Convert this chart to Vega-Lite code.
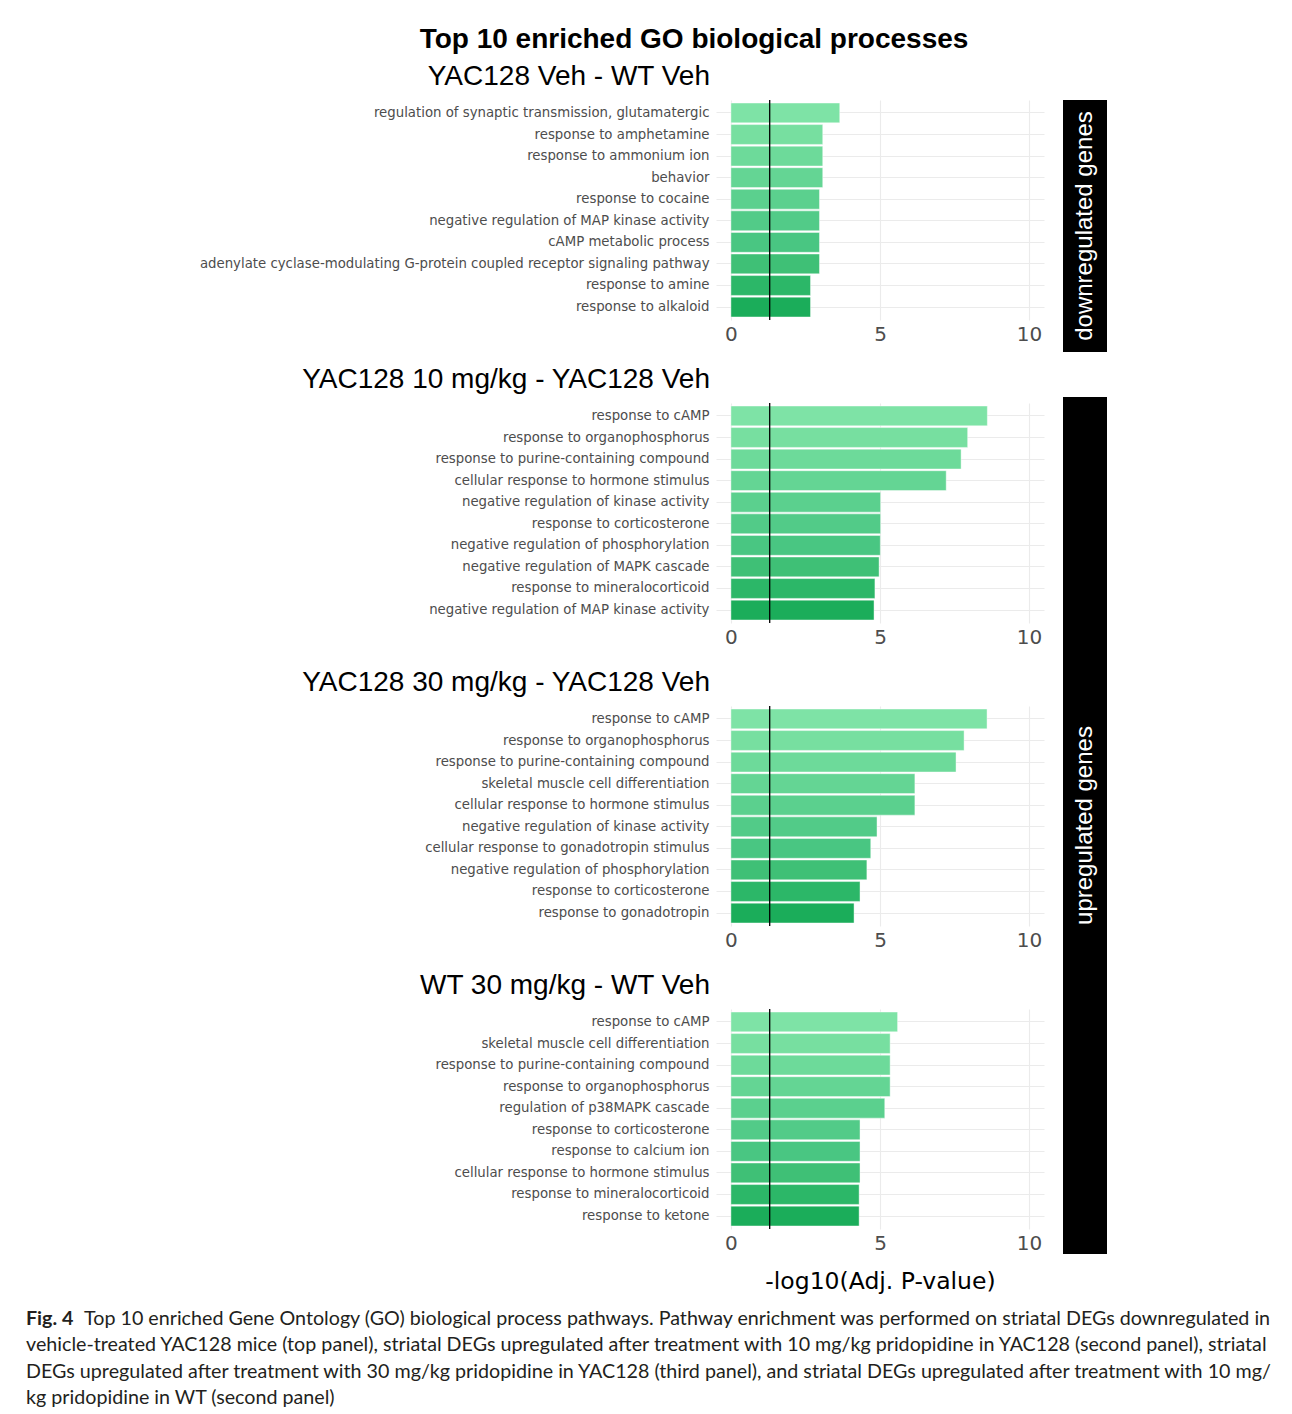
{
  "$schema": "https://vega.github.io/schema/vega-lite/v6.json",
  "padding": {"left": 26, "top": 26, "right": 5, "bottom": 3},
  "background": "white",
  "title": {
    "text": "Top 10 enriched GO biological processes",
    "fontWeight": "bold",
    "fontSize": 28,
    "anchor": "middle",
    "frame": "bounds",
    "dx": 43,
    "offset": 9
  },
  "spacing": 16,
  "vconcat": [
    {
      "spacing": 19,
      "hconcat": [
        {
          "width": 154,
          "height": 1,
          "data": {"values": []},
          "mark": {"type": "text"}
        },
        {
          "spacing": 22,
          "vconcat": [
            {
              "width": 328,
              "height": 220,
              "title": "YAC128 Veh - WT Veh",
              "layer": [
                {
                  "data": {"name": "go"},
                  "transform": [{"filter": "datum.panel === 'YAC128 Veh - WT Veh'"}],
                  "mark": {"type": "bar", "stroke": "#ffffff", "strokeWidth": 0.8, "strokeOpacity": 0.55},
                  "encoding": {
                    "y": {"field": "term", "type": "nominal", "sort": {"field": "rank", "op": "min", "order": "ascending"}, "title": null, "scale": {"paddingInner": 0.08, "paddingOuter": 0.14}, "axis": {"grid": true, "bandPosition": 0.5}},
                    "x": {"field": "value", "type": "quantitative", "title": null, "scale": {"domain": [-0.5, 10.5], "nice": false, "zero": false}, "axis": {"values": [0, 5, 10], "grid": true, "labelFlush": false}},
                    "color": {"field": "rank", "type": "ordinal", "legend": null, "scale": {"range": ["#7ee3a6", "#77dfa0", "#6dda9a", "#64d594", "#5bd08e", "#52cb88", "#49c682", "#3fc076", "#2cb768", "#1bad5a"]}}
                  }
                },
                {
                  "data": {"values": [{"cutoff": 1.301}]},
                  "mark": {"type": "rule", "color": "#000000", "strokeWidth": 1.3},
                  "encoding": {"x": {"field": "cutoff", "type": "quantitative"}}
                }
              ]
            },
            {
              "width": 328,
              "height": 220,
              "title": "YAC128 10 mg/kg - YAC128 Veh",
              "layer": [
                {
                  "data": {"name": "go"},
                  "transform": [{"filter": "datum.panel === 'YAC128 10 mg/kg - YAC128 Veh'"}],
                  "mark": {"type": "bar", "stroke": "#ffffff", "strokeWidth": 0.8, "strokeOpacity": 0.55},
                  "encoding": {
                    "y": {"field": "term", "type": "nominal", "sort": {"field": "rank", "op": "min", "order": "ascending"}, "title": null, "scale": {"paddingInner": 0.08, "paddingOuter": 0.14}, "axis": {"grid": true, "bandPosition": 0.5}},
                    "x": {"field": "value", "type": "quantitative", "title": null, "scale": {"domain": [-0.5, 10.5], "nice": false, "zero": false}, "axis": {"values": [0, 5, 10], "grid": true, "labelFlush": false}},
                    "color": {"field": "rank", "type": "ordinal", "legend": null}
                  }
                },
                {
                  "data": {"values": [{"cutoff": 1.301}]},
                  "mark": {"type": "rule", "color": "#000000", "strokeWidth": 1.3},
                  "encoding": {"x": {"field": "cutoff", "type": "quantitative"}}
                }
              ]
            },
            {
              "width": 328,
              "height": 220,
              "title": "YAC128 30 mg/kg - YAC128 Veh",
              "layer": [
                {
                  "data": {"name": "go"},
                  "transform": [{"filter": "datum.panel === 'YAC128 30 mg/kg - YAC128 Veh'"}],
                  "mark": {"type": "bar", "stroke": "#ffffff", "strokeWidth": 0.8, "strokeOpacity": 0.55},
                  "encoding": {
                    "y": {"field": "term", "type": "nominal", "sort": {"field": "rank", "op": "min", "order": "ascending"}, "title": null, "scale": {"paddingInner": 0.08, "paddingOuter": 0.14}, "axis": {"grid": true, "bandPosition": 0.5}},
                    "x": {"field": "value", "type": "quantitative", "title": null, "scale": {"domain": [-0.5, 10.5], "nice": false, "zero": false}, "axis": {"values": [0, 5, 10], "grid": true, "labelFlush": false}},
                    "color": {"field": "rank", "type": "ordinal", "legend": null}
                  }
                },
                {
                  "data": {"values": [{"cutoff": 1.301}]},
                  "mark": {"type": "rule", "color": "#000000", "strokeWidth": 1.3},
                  "encoding": {"x": {"field": "cutoff", "type": "quantitative"}}
                }
              ]
            },
            {
              "width": 328,
              "height": 220,
              "title": "WT 30 mg/kg - WT Veh",
              "layer": [
                {
                  "data": {"name": "go"},
                  "transform": [{"filter": "datum.panel === 'WT 30 mg/kg - WT Veh'"}],
                  "mark": {"type": "bar", "stroke": "#ffffff", "strokeWidth": 0.8, "strokeOpacity": 0.55},
                  "encoding": {
                    "y": {"field": "term", "type": "nominal", "sort": {"field": "rank", "op": "min", "order": "ascending"}, "title": null, "scale": {"paddingInner": 0.08, "paddingOuter": 0.14}, "axis": {"grid": true, "bandPosition": 0.5}},
                    "x": {"field": "value", "type": "quantitative", "title": "-log10(Adj. P-value)", "scale": {"domain": [-0.5, 10.5], "nice": false, "zero": false}, "axis": {"values": [0, 5, 10], "grid": true, "labelFlush": false}},
                    "color": {"field": "rank", "type": "ordinal", "legend": null}
                  }
                },
                {
                  "data": {"values": [{"cutoff": 1.301}]},
                  "mark": {"type": "rule", "color": "#000000", "strokeWidth": 1.3},
                  "encoding": {"x": {"field": "cutoff", "type": "quantitative"}}
                }
              ]
            }
          ]
        },
        {
          "spacing": 45,
          "vconcat": [
            {
              "width": 44,
              "height": 252,
              "view": {"fill": "#000000", "stroke": null},
              "data": {"values": [{"label": "downregulated genes"}]},
              "mark": {"type": "text", "angle": 270, "color": "#ffffff", "font": "Liberation Sans", "fontSize": 24, "align": "center", "baseline": "middle"},
              "encoding": {"text": {"field": "label"}}
            },
            {
              "width": 44,
              "height": 857,
              "view": {"fill": "#000000", "stroke": null},
              "data": {"values": [{"label": "upregulated genes"}]},
              "mark": {"type": "text", "angle": 270, "color": "#ffffff", "font": "Liberation Sans", "fontSize": 24, "align": "center", "baseline": "middle"},
              "encoding": {"text": {"field": "label"}}
            }
          ]
        }
      ]
    },
    {
      "width": 1250,
      "height": 79,
      "data": {"name": "caption"},
      "layer": [
        {
          "transform": [{"filter": "datum.part === 'label'"}],
          "mark": {"type": "text", "align": "left", "baseline": "middle", "font": "Lato", "fontSize": 19.7, "fontWeight": "bold", "color": "#231f20"},
          "encoding": {
            "x": {"datum": 0, "type": "quantitative", "scale": {"domain": [0, 1]}, "axis": null},
            "y": {"field": "line", "type": "ordinal", "scale": {"type": "point", "padding": 0}, "axis": null},
            "text": {"field": "text"}
          }
        },
        {
          "transform": [{"filter": "datum.part === 'lead'"}],
          "mark": {"type": "text", "align": "left", "baseline": "middle", "font": "Lato", "fontSize": 19.7, "color": "#231f20", "dx": 58},
          "encoding": {
            "x": {"datum": 0, "type": "quantitative", "scale": {"domain": [0, 1]}, "axis": null},
            "y": {"field": "line", "type": "ordinal", "scale": {"type": "point", "padding": 0}, "axis": null},
            "text": {"field": "text"}
          }
        },
        {
          "transform": [{"filter": "datum.part === 'body'"}],
          "mark": {"type": "text", "align": "left", "baseline": "middle", "font": "Lato", "fontSize": 19.7, "color": "#231f20"},
          "encoding": {
            "x": {"datum": 0, "type": "quantitative", "scale": {"domain": [0, 1]}, "axis": null},
            "y": {"field": "line", "type": "ordinal", "scale": {"type": "point", "padding": 0}, "axis": null},
            "text": {"field": "text"}
          }
        }
      ]
    }
  ],
  "datasets": {
    "go": [
      {"panel": "YAC128 Veh - WT Veh", "rank": 1, "term": "regulation of synaptic transmission, glutamatergic", "value": 3.65},
      {"panel": "YAC128 Veh - WT Veh", "rank": 2, "term": "response to amphetamine", "value": 3.08},
      {"panel": "YAC128 Veh - WT Veh", "rank": 3, "term": "response to ammonium ion", "value": 3.08},
      {"panel": "YAC128 Veh - WT Veh", "rank": 4, "term": "behavior", "value": 3.08},
      {"panel": "YAC128 Veh - WT Veh", "rank": 5, "term": "response to cocaine", "value": 2.97},
      {"panel": "YAC128 Veh - WT Veh", "rank": 6, "term": "negative regulation of MAP kinase activity", "value": 2.97},
      {"panel": "YAC128 Veh - WT Veh", "rank": 7, "term": "cAMP metabolic process", "value": 2.97},
      {"panel": "YAC128 Veh - WT Veh", "rank": 8, "term": "adenylate cyclase-modulating G-protein coupled receptor signaling pathway", "value": 2.97},
      {"panel": "YAC128 Veh - WT Veh", "rank": 9, "term": "response to amine", "value": 2.67},
      {"panel": "YAC128 Veh - WT Veh", "rank": 10, "term": "response to alkaloid", "value": 2.67},
      {"panel": "YAC128 10 mg/kg - YAC128 Veh", "rank": 1, "term": "response to cAMP", "value": 8.6},
      {"panel": "YAC128 10 mg/kg - YAC128 Veh", "rank": 2, "term": "response to organophosphorus", "value": 7.94},
      {"panel": "YAC128 10 mg/kg - YAC128 Veh", "rank": 3, "term": "response to purine-containing compound", "value": 7.72},
      {"panel": "YAC128 10 mg/kg - YAC128 Veh", "rank": 4, "term": "cellular response to hormone stimulus", "value": 7.22},
      {"panel": "YAC128 10 mg/kg - YAC128 Veh", "rank": 5, "term": "negative regulation of kinase activity", "value": 5.02},
      {"panel": "YAC128 10 mg/kg - YAC128 Veh", "rank": 6, "term": "response to corticosterone", "value": 5.02},
      {"panel": "YAC128 10 mg/kg - YAC128 Veh", "rank": 7, "term": "negative regulation of phosphorylation", "value": 5.01},
      {"panel": "YAC128 10 mg/kg - YAC128 Veh", "rank": 8, "term": "negative regulation of MAPK cascade", "value": 4.97},
      {"panel": "YAC128 10 mg/kg - YAC128 Veh", "rank": 9, "term": "response to mineralocorticoid", "value": 4.83},
      {"panel": "YAC128 10 mg/kg - YAC128 Veh", "rank": 10, "term": "negative regulation of MAP kinase activity", "value": 4.8},
      {"panel": "YAC128 30 mg/kg - YAC128 Veh", "rank": 1, "term": "response to cAMP", "value": 8.59},
      {"panel": "YAC128 30 mg/kg - YAC128 Veh", "rank": 2, "term": "response to organophosphorus", "value": 7.82},
      {"panel": "YAC128 30 mg/kg - YAC128 Veh", "rank": 3, "term": "response to purine-containing compound", "value": 7.55},
      {"panel": "YAC128 30 mg/kg - YAC128 Veh", "rank": 4, "term": "skeletal muscle cell differentiation", "value": 6.17},
      {"panel": "YAC128 30 mg/kg - YAC128 Veh", "rank": 5, "term": "cellular response to hormone stimulus", "value": 6.17},
      {"panel": "YAC128 30 mg/kg - YAC128 Veh", "rank": 6, "term": "negative regulation of kinase activity", "value": 4.9},
      {"panel": "YAC128 30 mg/kg - YAC128 Veh", "rank": 7, "term": "cellular response to gonadotropin stimulus", "value": 4.69},
      {"panel": "YAC128 30 mg/kg - YAC128 Veh", "rank": 8, "term": "negative regulation of phosphorylation", "value": 4.56},
      {"panel": "YAC128 30 mg/kg - YAC128 Veh", "rank": 9, "term": "response to corticosterone", "value": 4.33},
      {"panel": "YAC128 30 mg/kg - YAC128 Veh", "rank": 10, "term": "response to gonadotropin", "value": 4.13},
      {"panel": "WT 30 mg/kg - WT Veh", "rank": 1, "term": "response to cAMP", "value": 5.59},
      {"panel": "WT 30 mg/kg - WT Veh", "rank": 2, "term": "skeletal muscle cell differentiation", "value": 5.34},
      {"panel": "WT 30 mg/kg - WT Veh", "rank": 3, "term": "response to purine-containing compound", "value": 5.34},
      {"panel": "WT 30 mg/kg - WT Veh", "rank": 4, "term": "response to organophosphorus", "value": 5.34},
      {"panel": "WT 30 mg/kg - WT Veh", "rank": 5, "term": "regulation of p38MAPK cascade", "value": 5.16},
      {"panel": "WT 30 mg/kg - WT Veh", "rank": 6, "term": "response to corticosterone", "value": 4.33},
      {"panel": "WT 30 mg/kg - WT Veh", "rank": 7, "term": "response to calcium ion", "value": 4.33},
      {"panel": "WT 30 mg/kg - WT Veh", "rank": 8, "term": "cellular response to hormone stimulus", "value": 4.33},
      {"panel": "WT 30 mg/kg - WT Veh", "rank": 9, "term": "response to mineralocorticoid", "value": 4.3},
      {"panel": "WT 30 mg/kg - WT Veh", "rank": 10, "term": "response to ketone", "value": 4.3}
    ],
    "caption": [
      {"line": 1, "part": "label", "text": "Fig. 4"},
      {"line": 1, "part": "lead", "text": "Top 10 enriched Gene Ontology (GO) biological process pathways. Pathway enrichment was performed on striatal DEGs downregulated in"},
      {"line": 2, "part": "body", "text": "vehicle-treated YAC128 mice (top panel), striatal DEGs upregulated after treatment with 10 mg/kg pridopidine in YAC128 (second panel), striatal"},
      {"line": 3, "part": "body", "text": "DEGs upregulated after treatment with 30 mg/kg pridopidine in YAC128 (third panel), and striatal DEGs upregulated after treatment with 10 mg/"},
      {"line": 4, "part": "body", "text": "kg pridopidine in WT (second panel)"}
    ]
  },
  "config": {
    "view": {"stroke": null},
    "font": "DejaVu Sans",
    "axis": {"domain": false, "ticks": false, "gridColor": "#ebebeb", "gridWidth": 1.1, "labelColor": "#4d4d4d", "labelFont": "DejaVu Sans"},
    "axisX": {"labelFontSize": 20, "labelPadding": 4, "titleFont": "DejaVu Sans", "titleFontSize": 23.5, "titleFontWeight": "normal", "titleColor": "#000000", "titlePadding": 16},
    "axisY": {"labelFontSize": 13.3, "labelPadding": 7, "labelLimit": 800},
    "title": {"font": "Liberation Sans", "fontSize": 28, "fontWeight": "normal", "color": "#000000", "anchor": "end", "frame": "group", "dx": -334, "offset": 8, "baseline": "alphabetic"}
  }
}
